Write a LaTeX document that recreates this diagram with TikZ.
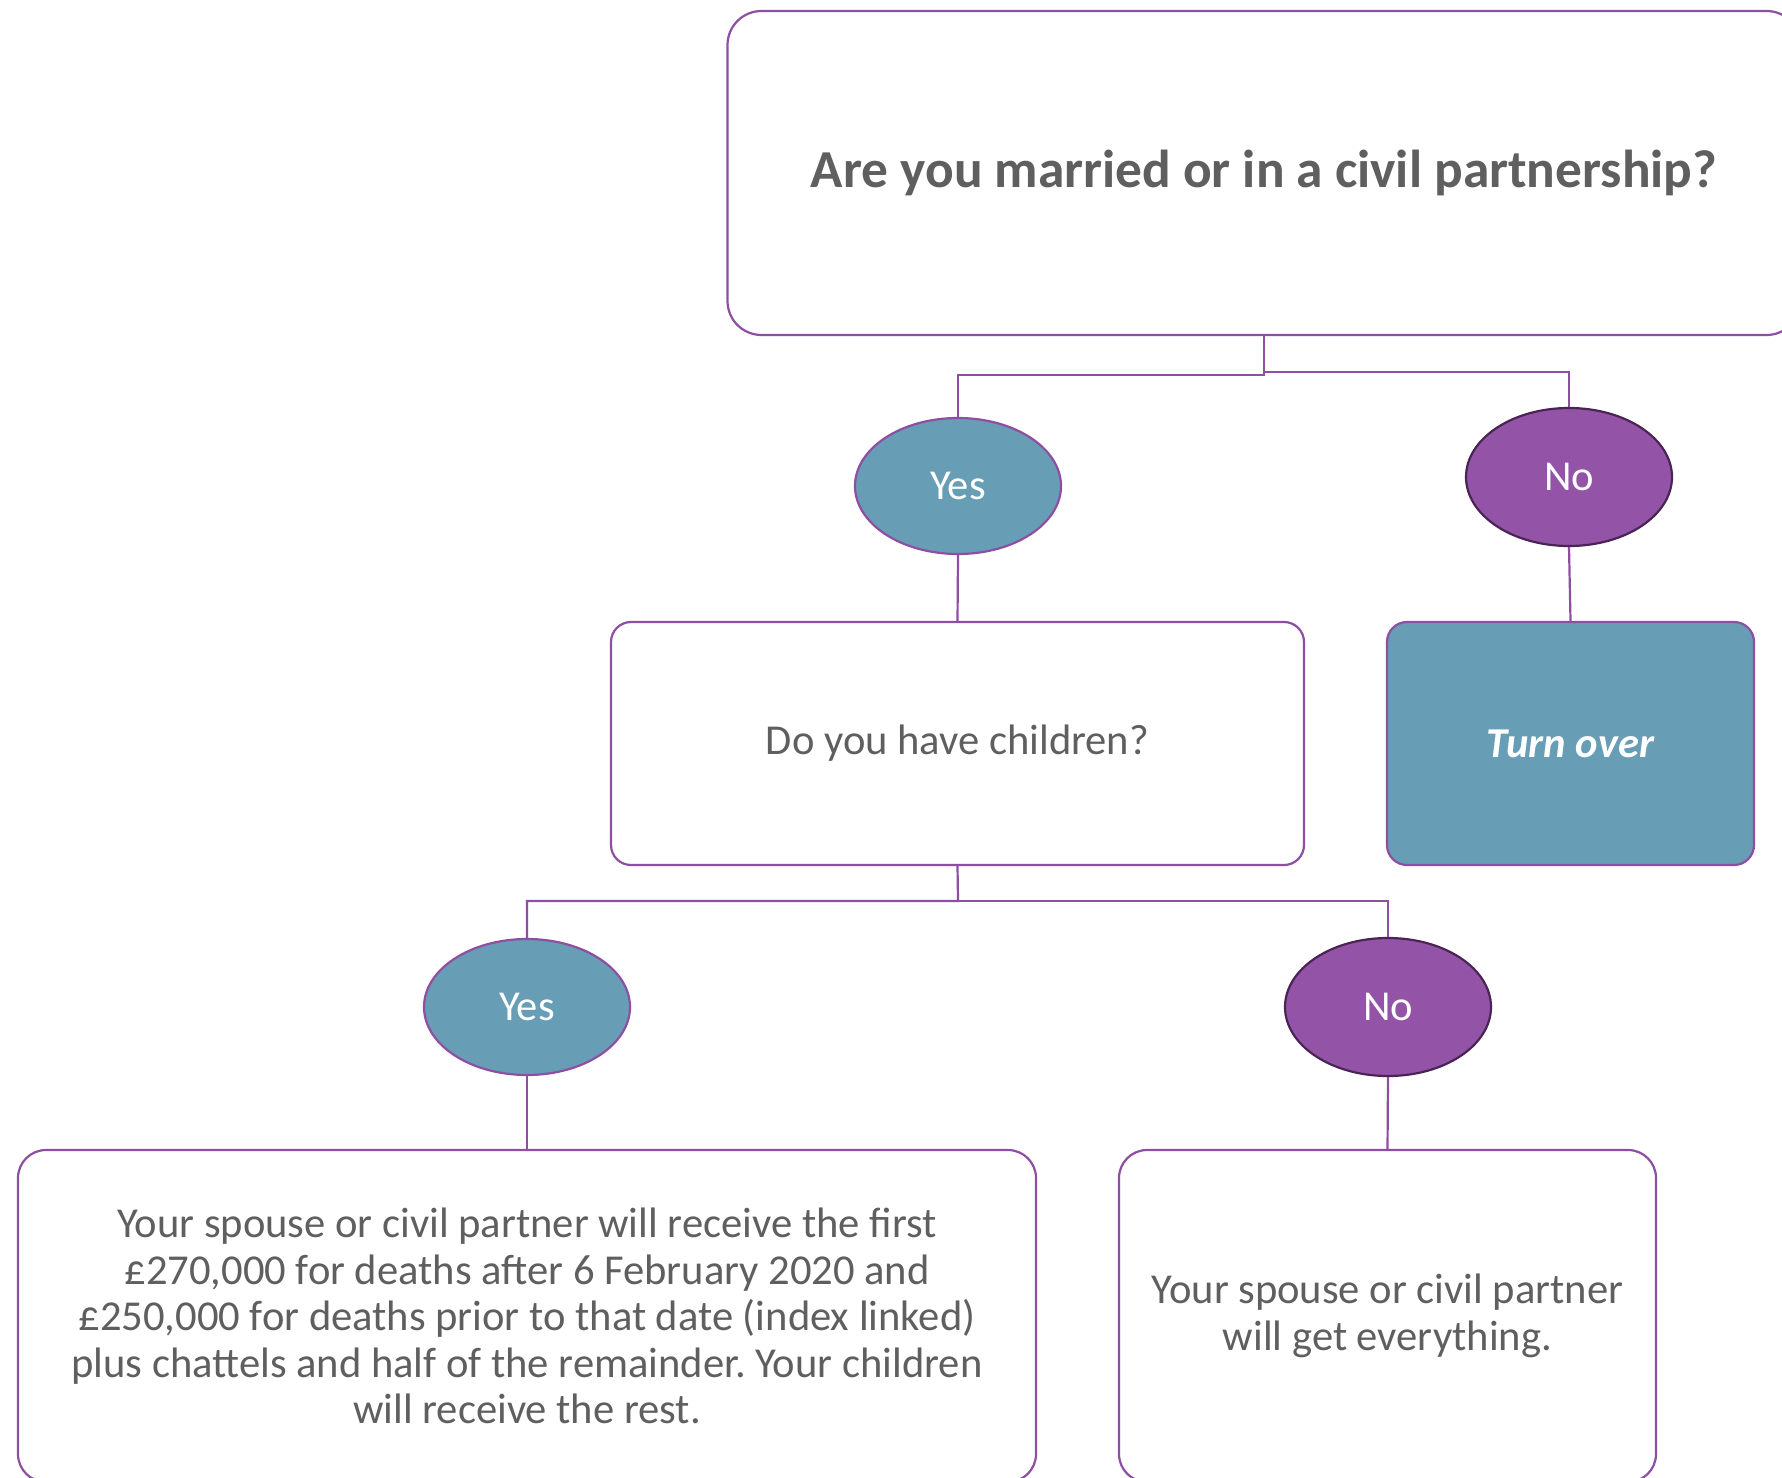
\documentclass[tikz,border=0pt]{standalone}
\usepackage{fontspec}
\setmainfont{Carlito}
\usetikzlibrary{shapes.geometric}
\frenchspacing
\definecolor{lineviolet}{HTML}{8E4FA3}
\definecolor{tealfill}{HTML}{679EB6}
\definecolor{violetfill}{HTML}{9354A8}
\definecolor{darkviolet}{HTML}{4A2455}
\definecolor{textgrey}{HTML}{5F5F5F}
\begin{document}
\begin{tikzpicture}[x=0.5pt,y=-0.5pt,
    every node/.style={font=\fontsize{21.3}{23.3}\selectfont, align=center, text=textgrey},
    qbox/.style={draw=lineviolet, line width=1.1pt, rounded corners=10pt, fill=white},
    yesnode/.style={ellipse, draw=lineviolet, line width=1.1pt, fill=tealfill,
      text=white, minimum width=103pt, minimum height=68pt},
    nonode/.style={ellipse, draw=darkviolet, line width=1.1pt, fill=violetfill,
      text=white, minimum width=103pt, minimum height=69pt},
    link/.style={draw=lineviolet, line width=1.1pt}]
  \clip (0,0) rectangle (1782,1477);
  \fill[white] (0,0) rectangle (1782,1477);
  \node[qbox, rounded corners=17pt, minimum width=536.5pt, minimum height=162pt,
    font=\fontsize{26.7}{30}\selectfont\bfseries] (MARRIED) at (1264,173)
    {Are you married or in a civil partnership?};   % first question
  \node[yesnode] (YES1) at (958,486) {Yes};
  \node[nonode] (NO1) at (1569,477) {No};
  \node[qbox, minimum width=346.5pt, minimum height=121.5pt] (CHILD) at (957.5,743.5)
    {Do you have children?};                        % second question
  \node[qbox, fill=tealfill, text=white, minimum width=183.5pt, minimum height=121.5pt,
    font=\fontsize{21.3}{23.3}\selectfont\bfseries\itshape] (TURN) at (1570.5,743.5) {Turn over};
  \node[yesnode] (YES2) at (527,1007) {Yes};
  \node[nonode] (NO2) at (1388,1007) {No};
  \node[qbox, rounded corners=14pt, minimum width=509pt, minimum height=166pt] (SHARE) at (527,1316)
    {Your spouse or civil partner will receive the first\\
     £270,000 for deaths after 6 February 2020 and\\
     £250,000 for deaths prior to that date (index linked)\\
     plus chattels and half of the remainder. Your children\\
     will receive the rest.};                       % answer with children
  \node[qbox, rounded corners=14pt, minimum width=268.5pt, minimum height=166pt] (ALL) at (1387.5,1316)
    {Your spouse or civil partner\\ will get everything.};  % answer without
  % connectors
  \coordinate (J1) at (1264,375);
  \coordinate (J2) at (1264,372);
  \coordinate (J3) at (958,901);
  \path[link] (MARRIED.south) -- (J1) -| (YES1.north);
  \path[link] (J2) -| (NO1.north);
  \path[link] (YES1.south) -- (CHILD.north);
  \path[link] (NO1.south) -- (TURN.north);
  \path[link] (CHILD.south) -- (J3) -| (YES2.north);
  \path[link] (J3) -| (NO2.north);
  \path[link] (YES2.south) -- (SHARE.north);
  \path[link] (NO2.south) -- (ALL.north);
\end{tikzpicture}
\end{document}
